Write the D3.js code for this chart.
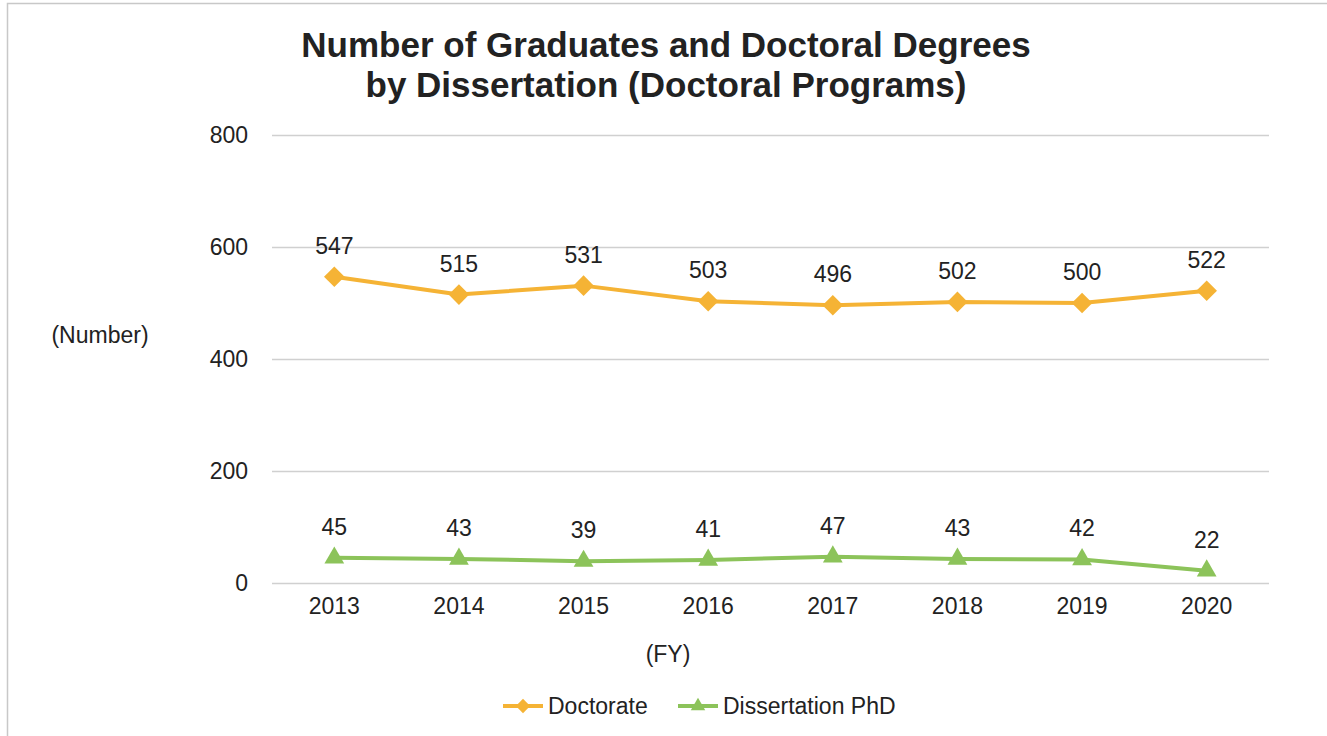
<!DOCTYPE html>
<html>
<head>
<meta charset="utf-8">
<script src="https://cdn.jsdelivr.net/npm/d3@7"></script>
<style>
  html, body { margin: 0; padding: 0; background: #fff; }
  svg { display: block; }
  text { font-family: "Liberation Sans", Arial, sans-serif; fill: #222; }
</style>
</head>
<body>
<script>
// Fiscal years and the two series
const years = ["2013", "2014", "2015", "2016", "2017", "2018", "2019", "2020"];
const doctorate = [547, 515, 531, 503, 496, 502, 500, 522];
const dissertationPhD = [45, 43, 39, 41, 47, 43, 42, 22];
const yTicks = [0, 200, 400, 600, 800];
const titleLines = ["Number of Graduates and Doctoral Degrees", "by Dissertation (Doctoral Programs)"];

const W = 1327, H = 736;
const plot = { left: 272, right: 1269, top: 135, bottom: 583 };
const FONT = "Liberation Sans, Arial, sans-serif";

const svg = d3.select("body").append("svg").attr("width", W).attr("height", H);

// outer frame
svg.append("rect").attr("x", 7.5).attr("y", 3.5).attr("width", W + 10).attr("height", H + 10)
  .attr("fill", "none").attr("stroke", "#c8c8c8").attr("stroke-width", 1.5);

const x = d3.scaleBand().domain(years).range([plot.left, plot.right]);
const cx = d => x(d) + x.bandwidth() / 2;
const y = d3.scaleLinear().domain([0, 800]).range([plot.bottom, plot.top]);

// title
svg.append("text").attr("text-anchor", "middle")
  .style("font-weight", "bold").style("font-size", "35px")
  .selectAll("tspan").data(titleLines).join("tspan")
  .attr("x", 666).attr("y", (d, i) => 57 + i * 40).text(d => d);

// gridlines + y labels
const yAxis = d3.axisLeft(y).tickValues(yTicks).tickSize(-(plot.right - plot.left)).tickPadding(24);
const gy = svg.append("g").attr("transform", `translate(${plot.left},0)`).call(yAxis);
gy.select(".domain").remove();
gy.selectAll(".tick line").attr("stroke", "#d0d0d0").attr("stroke-width", 1.5);
gy.selectAll(".tick text").style("font-size", "23px").style("font-family", FONT).attr("fill", "#222");

// x labels
const xAxis = d3.axisBottom(x).tickSize(0).tickPadding(15);
const gx = svg.append("g").attr("transform", `translate(0,${plot.bottom})`).call(xAxis);
gx.select(".domain").remove();
gx.selectAll(".tick text").style("font-size", "23px").style("font-family", FONT).attr("fill", "#222");

// axis titles
svg.append("text").attr("x", 100).attr("y", 343).attr("text-anchor", "middle").style("font-size", "23px").text("(Number)");
svg.append("text").attr("x", 668).attr("y", 662).attr("text-anchor", "middle").style("font-size", "23px").text("(FY)");

const series = [
  { name: "Doctorate", values: doctorate, color: "#F5B335", symbol: d3.symbolDiamond2, size: 270, legendSize: 130, x0: 503 },
  { name: "Dissertation PhD", values: dissertationPhD, color: "#8CC35A", symbol: d3.symbolTriangle2, size: 280, legendSize: 150, x0: 678 }
];

const line = d3.line().x((d, i) => cx(years[i])).y(d => y(d));

series.forEach(s => {
  const g = svg.append("g");
  g.append("path").datum(s.values).attr("d", line)
    .attr("fill", "none").attr("stroke", s.color).attr("stroke-width", 4).attr("stroke-linejoin", "round");
  g.selectAll("path.mark").data(s.values).join("path").attr("class", "mark")
    .attr("d", d3.symbol().type(s.symbol).size(s.size))
    .attr("transform", (d, i) => `translate(${cx(years[i])},${y(d)})`)
    .attr("fill", s.color);
  g.selectAll("text").data(s.values).join("text")
    .attr("x", (d, i) => cx(years[i])).attr("y", d => y(d) - 23)
    .attr("text-anchor", "middle").style("font-size", "23px").text(d => d);
});

// legend
series.forEach(s => {
  const g = svg.append("g").attr("transform", `translate(${s.x0},706)`);
  g.append("line").attr("x1", 0).attr("x2", 40).attr("stroke", s.color).attr("stroke-width", 4);
  g.append("path").attr("d", d3.symbol().type(s.symbol).size(s.legendSize))
    .attr("transform", "translate(20,0)").attr("fill", s.color);
  g.append("text").attr("x", 45).attr("y", 8).style("font-size", "23px").text(s.name);
});
</script>
</body>
</html>
